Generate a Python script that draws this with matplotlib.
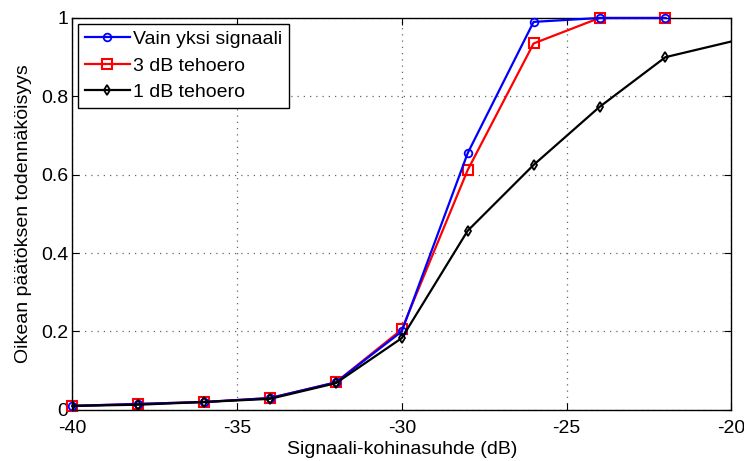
import matplotlib
matplotlib.use("Agg")
import matplotlib.pyplot as plt
from matplotlib.ticker import FuncFormatter

plt.rcParams['font.family'] = ['Liberation Sans', 'DejaVu Sans']
plt.rcParams['axes.unicode_minus'] = False

snr = [-40, -38, -36, -34, -32, -30, -28, -26, -24, -22]
single = [0.01, 0.015, 0.02, 0.03, 0.07, 0.20, 0.655, 0.99, 1.0, 1.0]
db3 = [0.01, 0.015, 0.02, 0.03, 0.07, 0.205, 0.612, 0.935, 1.0, 1.0]
snr_black = [-40, -38, -36, -34, -32, -30, -28, -26, -24, -22, -20]
db1 = [0.01, 0.013, 0.02, 0.028, 0.068, 0.183, 0.457, 0.625, 0.773, 0.90, 0.94]

labels = ['Vain yksi signaali', '3 dB tehoero', '1 dB tehoero']
xticks = [-40, -35, -30, -25, -20]
yticks = [0, 0.2, 0.4, 0.6, 0.8, 1.0]

fig = plt.figure(figsize=(7.44, 4.61), dpi=100)
ax = fig.add_axes([0.097, 0.111, 0.886, 0.850])

ax.plot(snr, single, color='blue', marker='o', markersize=5.5, markerfacecolor='none',
        markeredgewidth=1.3, linewidth=1.6, label=labels[0], clip_on=False, zorder=3)
ax.plot(snr, db3, color='red', marker='s', markersize=7.5, markerfacecolor='none',
        markeredgewidth=1.5, linewidth=1.6, label=labels[1], clip_on=False, zorder=2)
ax.plot(snr_black, db1, color='black', marker='d', markersize=5.5, markerfacecolor='none',
        markeredgewidth=1.3, linewidth=1.6, label=labels[2], markevery=list(range(10)),
        zorder=4)

ax.set_xlim(-40, -20)
ax.set_ylim(0, 1)
ax.set_xticks(xticks)
ax.set_yticks(yticks)
ax.yaxis.set_major_formatter(FuncFormatter(lambda v, p: '%g' % v))
ax.tick_params(direction='in', labelsize=14, length=5, top=True, right=True, pad=3)
ax.tick_params(axis='x', pad=7)
ax.grid(True, linestyle=(0, (1, 4)), color='#666666', linewidth=0.9)
for s in ax.spines.values():
    s.set_linewidth(1.0)

ax.set_xlabel('Signaali-kohinasuhde (dB)', fontsize=14, labelpad=3)
ax.set_ylabel('Oikean päätöksen todennäköisyys', fontsize=14, labelpad=6)

leg = ax.legend(loc='upper left', fontsize=14, fancybox=False, edgecolor='black',
                framealpha=1, handlelength=2.3, handletextpad=0.2, borderpad=0.35,
                labelspacing=0.45, borderaxespad=0.3)
leg.get_frame().set_linewidth(1.0)

fig.savefig('out.png', dpi=100)
